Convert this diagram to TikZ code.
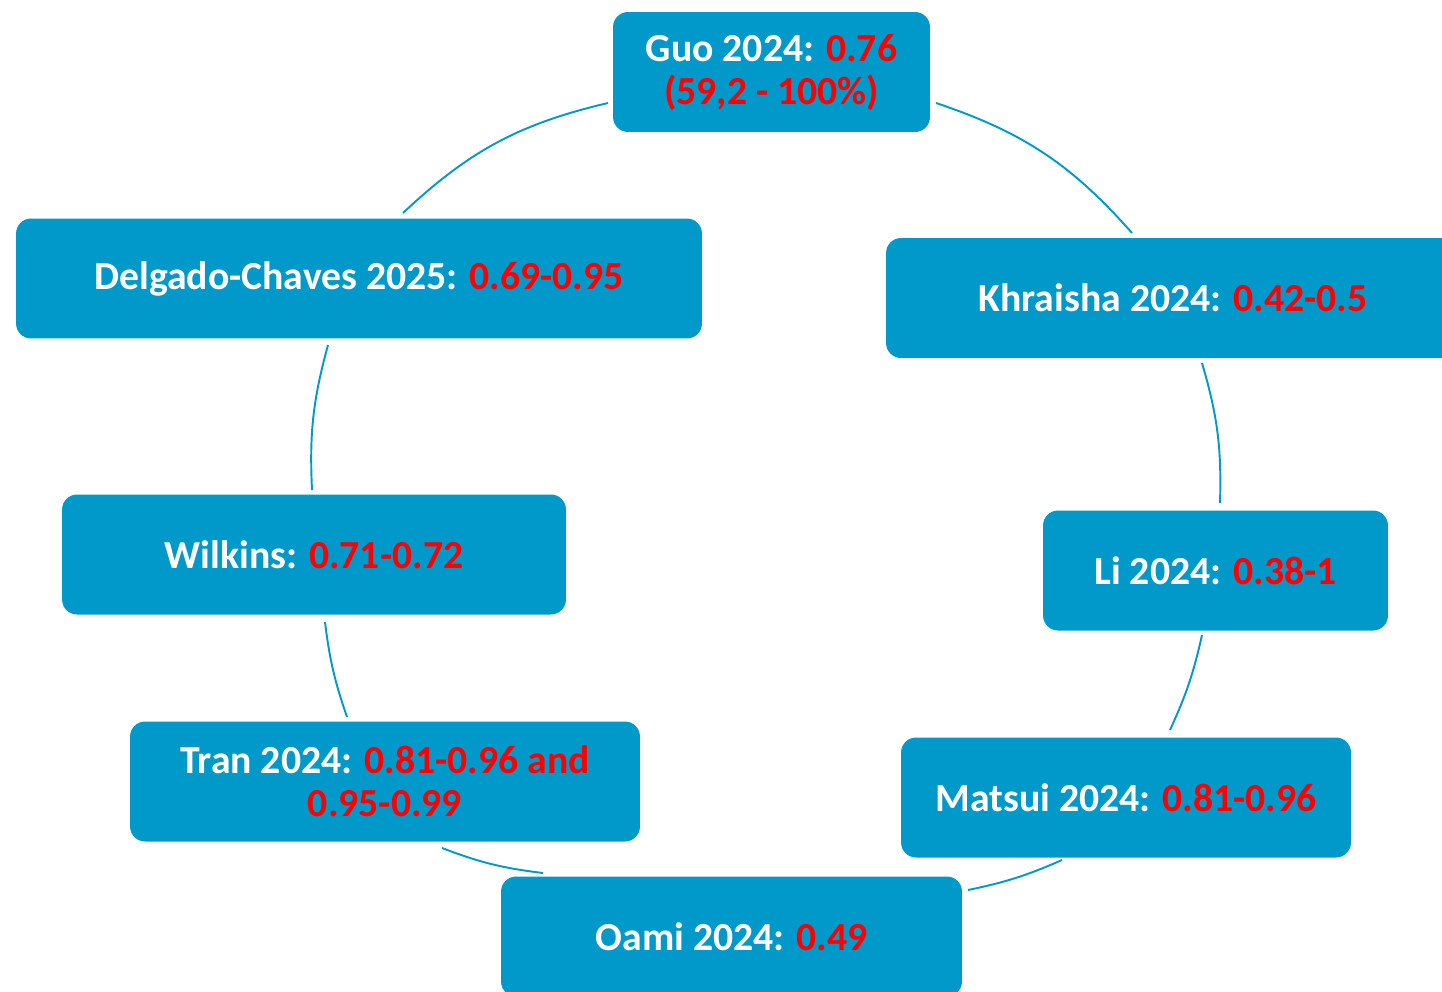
\documentclass[tikz,border=0pt]{standalone}
\usepackage{fontspec}
\setmainfont{Carlito}
\definecolor{boxblue}{RGB}{0,153,201}

\begin{document}
\begin{tikzpicture}[x=0.02cm, y=-0.02cm, box/.style = {fill=boxblue, rounded corners=0.3cm, minimum height=2.4cm, inner sep=0pt, text=white, align=center, font=\fontsize{22.6}{24.5}\selectfont\bfseries}, link/.style = {draw=boxblue, line width=1.1pt}]
\useasboundingbox (0,0) rectangle (1442,991);
\clip (0,0) rectangle (1442,991);

\node[box, minimum width=6.34cm] (guo) at (771.5,72) {Guo 2024: \textcolor{red}{0.76}\\\textcolor{red}{(59,2 - 100\%)}};
\node[box, minimum width=13.72cm] (delgado) at (359,278.5) {Delgado-Chaves 2025: \textcolor{red}{0.69-0.95}};
\node[box, minimum width=11.48cm] (khraisha) at (1173,298) {Khraisha 2024: \textcolor{red}{0.42-0.5}};
\node[box, minimum width=10.08cm] (wilkins) at (314,554.5) {Wilkins: \textcolor{red}{0.71-0.72}};
\node[box, minimum width=6.9cm] (li) at (1215.5,570.5) {Li 2024: \textcolor{red}{0.38-1}};
\node[box, minimum width=10.2cm] (tran) at (385,781.5) {Tran 2024: \textcolor{red}{0.81-0.96 and}\\\textcolor{red}{0.95-0.99}};
\node[box, minimum width=9cm] (matsui) at (1126,797.5) {Matsui 2024: \textcolor{red}{0.81-0.96}};
\node[box, minimum width=9.22cm] (oami) at (731.5,936.5) {Oami 2024: \textcolor{red}{0.49}};

% arc ends
\coordinate (guo-l) at (608,103);
\coordinate (guo-r) at (936,103);
\coordinate (delgado-t) at (403,213);
\coordinate (delgado-b) at (328,345);
\coordinate (khraisha-t) at (1132,233);
\coordinate (khraisha-b) at (1202,363);
\coordinate (wilkins-t) at (312,490);
\coordinate (wilkins-b) at (325,622);
\coordinate (li-t) at (1220,503);
\coordinate (li-b) at (1202,635);
\coordinate (tran-t) at (347,717);
\coordinate (tran-b) at (442,848);
\coordinate (matsui-t) at (1170,730);
\coordinate (matsui-b) at (1062,860);
\coordinate (oami-l) at (543,873);
\coordinate (oami-r) at (968,890);

\draw[link] (guo-l) to[bend right=15] (delgado-t);
\draw[link] (delgado-b) to[bend right=9] (wilkins-t);
\draw[link] (wilkins-b) to[bend right=6] (tran-t);
\draw[link] (tran-b) to[bend right=7] (oami-l);
\draw[link] (oami-r) to[bend right=6] (matsui-b);
\draw[link] (matsui-t) to[bend right=6] (li-b);
\draw[link] (li-t) to[bend right=9] (khraisha-b);
\draw[link] (khraisha-t) to[bend right=15] (guo-r);
\end{tikzpicture}
\end{document}
